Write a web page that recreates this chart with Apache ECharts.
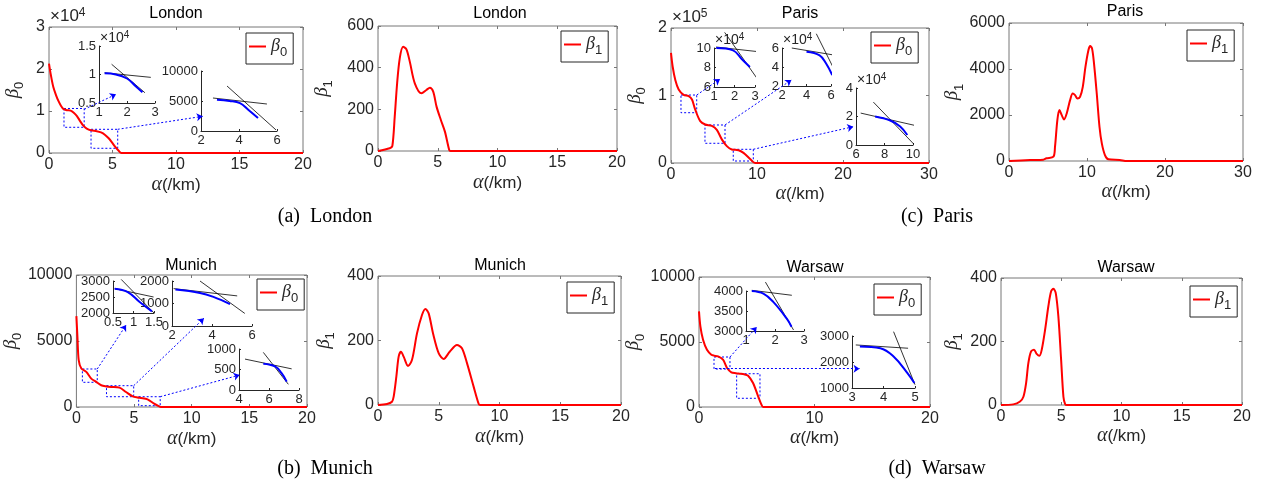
<!DOCTYPE html>
<html><head><meta charset="utf-8">
<script src="https://cdn.jsdelivr.net/npm/echarts@6/dist/echarts.min.js"></script>
<style>html,body{margin:0;padding:0;background:#fff}#c{width:1271px;height:489px}</style>
</head><body><div id="c"></div>
<script>
// ================= DATA =================
// main curves (alpha in km, beta raw values)
const londonB0X = [0,0.15,0.34,0.55,0.74,0.95,1.13,1.4,1.7,1.95,2.2,2.45,2.7,2.97,3.3,3.76,4.1,4.42,4.7,4.94,5.2,5.47,5.7,6.5,20];
const londonB0Y = [21300,18500,15700,13800,12400,11200,10500,10200,10100,9600,8800,7600,6500,5800,5400,5200,4900,4300,3500,2600,1500,600,0,0,0];
const londonB1X = [0,0.98,1.2,1.4,1.6,1.82,2.1,2.38,2.66,3.08,3.64,4.05,4.34,4.62,4.9,5.26,5.6,5.96,6.07,20];
const londonB1Y = [0,13,24,165,325,445,500,488,429,325,277,293,304,285,213,149,93,5,0,0];
const parisB0X = [0,0.19,0.5,0.89,1.47,2.05,2.44,2.82,3.4,3.98,4.75,5.33,5.91,6.49,7.07,7.85,8.43,9.2,9.78,11,30];
const parisB0Y = [163000,143000,123000,109000,101000,99000,94000,79000,62000,57000,55000,49000,35000,25000,20000,19000,15000,6000,0,0,0];
const parisB1X = [0,2.7,4.4,4.8,5.7,5.9,6.2,6.46,6.76,7.06,7.4,7.83,8.17,8.47,8.77,9.11,9.46,9.8,10.18,10.4,10.65,10.9,11.25,11.6,11.9,12.3,12.75,14.2,15.1,30];
const parisB1Y = [0,43,58,116,188,622,1778,2212,1995,1807,2067,2646,2935,2862,2718,2790,3224,4091,4814,5002,4887,4236,2935,1489,766,260,72,43,0,0];
const munichB0X = [0,0.09,0.2,0.43,0.86,1.29,1.72,2.15,2.6,3.0,3.73,4.3,4.88,5.3,5.6,6.17,6.74,7.1,7.32,8,20];
const munichB0Y = [6886,5316,3544,2911,2658,2152,1899,1646,1560,1519,1468,1139,810,720,684,582,253,80,0,0,0];
const munichB1X = [0,0.74,1.15,1.29,1.51,1.7,1.89,2.11,2.47,2.8,3.21,3.62,3.9,4.17,4.53,5.0,5.4,5.9,6.5,6.91,7.33,7.87,8.29,8.42,20];
const munichB1Y = [0,3,10,26,88,150,165,150,121,140,222,279,298,284,222,160,143,165,186,176,129,57,3,0,0];
const warsawB0X = [0,0.12,0.35,0.69,1.07,1.3,1.65,2.08,2.43,2.8,3.2,3.53,3.9,4.25,4.68,5.12,5.35,5.55,6.2,20];
const warsawB0Y = [7359,6205,5179,4410,4026,3950,3897,3641,3000,2667,2600,2564,2520,2410,1846,820,300,0,0,0];
const warsawB1X = [0,1.02,1.58,1.86,2.08,2.27,2.49,2.74,2.96,3.19,3.38,3.66,3.93,4.16,4.35,4.54,4.76,4.99,5.18,5.32,5.46,20];
const warsawB1Y = [0,2,11,26,68,132,168,174,161,155,174,237,311,358,366,353,279,142,26,3,0,0];

// zoom boxes [x1,y1,x2,y2] and arrows [fromX,fromY,toX,toY] in main-plot data units
const londonBoxes = [[1.18,10600,2.77,6120],[3.31,5640,5.41,1120]];
const londonArrows = [[2.77,10400,5.28,13970],[5.41,5640,12.1,8730]];
const parisBoxes = [[1.16,100700,2.99,74500],[3.95,56300,6.28,29200],[7.24,20300,9.57,2960]];
const parisArrows = [[2.99,100700,5.7,124400],[6.28,56300,14.0,123000],[9.57,20300,21.2,53800]];
const munichBoxes = [[0.52,2879,1.81,1871],[2.61,1614,4.97,780],[5.4,780,7.27,100]];
const munichArrows = [[1.81,2879,4.31,6212],[4.97,1614,11.06,6720],[7.27,780,14.16,2424]];
const warsawBoxes = [[1.3,3846,2.68,2923],[3.26,2560,5.28,670]];
const warsawArrows = [[2.68,3846,5.0,6154],[1.38,2950,13.9,2950]];

// inset curves: [x,y] pairs; flat/steep tangent lines (black) and fitted curve (blue)
const londonIn1Flat = [[1.2,10300],[2.85,9500]];
const londonIn1Steep = [[1.45,11800],[2.64,6800]];
const londonIn1Blue = [[1.2,10200],[1.6,10000],[2.0,9300],[2.3,8000],[2.55,6900]];
const londonIn2Flat = [[2.63,5500],[5.47,4500]];
const londonIn2Steep = [[3.37,7500],[5.95,170]];
const londonIn2Blue = [[2.84,5200],[3.5,5000],[4.05,4650],[4.5,3500],[5.0,2170]];
const parisIn1Flat = [[1.1,101000],[3.3,95900]];
const parisIn1Steep = [[1.52,116000],[3.11,68500]];
const parisIn1Blue = [[1.11,100000],[1.93,97600],[2.34,89000],[2.75,80500]];
const parisIn2Flat = [[2.8,60000],[6.84,51300]];
const parisIn2Steep = [[4.8,75000],[6.7,26000]];
const parisIn2Blue = [[4.0,56000],[5.07,52300],[5.6,43700],[6.1,31500]];
const parisIn3Flat = [[6.33,22400],[10.28,13400]];
const parisIn3Steep = [[7.22,30100],[10.05,700]];
const parisIn3Blue = [[7.34,20000],[8.4,17200],[9.1,13000],[9.6,7000]];
const munichIn1Flat = [[0.54,2760],[1.49,2500]];
const munichIn1Steep = [[0.7,3050],[1.5,2000]];
const munichIn1Blue = [[0.54,2760],[0.86,2656],[1.15,2344],[1.45,2052]];
const munichIn2Flat = [[2.08,1662],[5.26,1338]];
const munichIn2Steep = [[3.4,2000],[5.64,559]];
const munichIn2Blue = [[2.17,1618],[3.4,1471],[4.07,1294],[4.9,971]];
const munichIn3Flat = [[4.4,754],[7.51,516]];
const munichIn3Steep = [[5.62,918],[7.29,139]];
const munichIn3Blue = [[5.62,639],[6.4,574],[6.84,410],[7.18,205]];
const warsawIn1Flat = [[1.2,4017],[2.58,3893]];
const warsawIn1Steep = [[1.67,4223],[2.64,3025]];
const warsawIn1Blue = [[1.2,4000],[1.6,3934],[1.94,3727],[2.4,3314],[2.57,3107]];
const warsawIn2Flat = [[3.12,2656],[4.78,2529]];
const warsawIn2Steep = [[4.32,3166],[5.0,1127]];
const warsawIn2Blue = [[3.25,2592],[3.9,2529],[4.32,2210],[4.76,1573],[4.98,1191]];

const cityNames = ['London','Paris','Munich','Warsaw'];
const captions = ['(a)  London','(b)  Munich','(c)  Paris','(d)  Warsaw'];

// ================= LAYOUT / STYLE =================
const SANS = '"Liberation Sans", Arial, Helvetica, sans-serif';
const SERIF = '"Liberation Serif", "Times New Roman", serif';
const AX = '#262626';
const FRAME = '#777777';
const RED = '#ff0000';
const BLUE = '#0000ff';

const grids = [], xAxes = [], yAxes = [], series = [], legends = [], titles = [];
function num(v){ return String(parseFloat(Number(v).toFixed(4))); }
function pairs(xs, ys){ return xs.map((x,i)=>[x, ys[i]]); }
const betaRich = {
  b:{fontFamily:SERIF, fontStyle:'italic', fontSize:19, color:AX, verticalAlign:'top', lineHeight:20},
  s:{fontFamily:SANS, fontSize:13, color:AX, verticalAlign:'top', padding:[10,0,0,0], lineHeight:13}
};
const legRich = {
  b:{fontFamily:SERIF, fontStyle:'italic', fontSize:18, color:AX, verticalAlign:'top', lineHeight:19},
  s:{fontFamily:SANS, fontSize:13, color:AX, verticalAlign:'top', padding:[9,0,0,0], lineHeight:13}
};
// exponent label (×10^n) drawn as a title text at the top-left of an axes
function addExp(left, top, exp, big, small){
  titles.push({text:'{m|×10}{e|'+exp+'}', left:left, top:top, padding:0,
    textStyle:{fontWeight:'normal', fontFamily:SANS, color:AX, rich:{
      m:{fontFamily:SANS, fontWeight:'normal', fontSize:big, color:AX, verticalAlign:'bottom', lineHeight:big+1, padding:[Math.round(small*0.45),0,0,0]},
      e:{fontFamily:SANS, fontWeight:'normal', fontSize:small, color:AX, verticalAlign:'top', lineHeight:small+1}
    }}});
}

function addMain(p){
  const gi = grids.length;
  grids.push({left:p.l, top:p.t, width:p.r-p.l, height:p.b-p.t, show:true, borderColor:FRAME, borderWidth:1, backgroundColor:'transparent'});
  const tick = {show:true, inside:true, length:3, lineStyle:{color:FRAME}};
  const xi = xAxes.length;
  xAxes.push({type:'value', gridIndex:gi, min:0, max:p.xmax, interval:p.xint, position:'bottom',
    axisLine:{show:false, onZero:false}, axisTick:tick, splitLine:{show:false},
    axisLabel:{color:AX, fontFamily:SANS, fontSize:16, margin:4, formatter:v=>num(v)},
    name:'{a|α}(/km)', nameLocation:'middle', nameGap:p.xGap,
    nameTextStyle:{color:AX, fontFamily:SANS, fontSize:17, rich:{a:{fontFamily:SERIF, fontStyle:'italic', fontSize:20, color:AX}}}});
  xAxes.push({type:'value', gridIndex:gi, min:0, max:p.xmax, interval:p.xint, position:'top',
    axisLine:{show:false, onZero:false}, axisTick:tick, axisLabel:{show:false}, splitLine:{show:false}});
  const yi = yAxes.length;
  yAxes.push({type:'value', gridIndex:gi, min:0, max:p.ymax, interval:p.yint, position:'left',
    axisLine:{show:false, onZero:false}, axisTick:tick, splitLine:{show:false},
    axisLabel:{color:AX, fontFamily:SANS, fontSize:16, margin:4, formatter:v=>num(v/p.ydiv)},
    name:'{b|β}{s|'+p.sub+'}', nameLocation:'middle', nameGap:p.yGap, nameRotate:90,
    nameTextStyle:{rich:betaRich}});
  yAxes.push({type:'value', gridIndex:gi, min:0, max:p.ymax, interval:p.yint, position:'right',
    axisLine:{show:false, onZero:false}, axisTick:tick, axisLabel:{show:false}, splitLine:{show:false}});
  if (p.exp) addExp(p.l+1, p.t-20, p.exp, 17, 12);
  const s = {type:'line', name:p.sname, xAxisIndex:xi, yAxisIndex:yi, data:pairs(p.x,p.y),
    showSymbol:false, smooth:0.3, lineStyle:{color:RED, width:2}, itemStyle:{color:RED}, silent:true, z:3};
  if (p.boxes){
    s.markArea = {silent:true, label:{show:false},
      itemStyle:{color:'rgba(0,0,0,0)', borderColor:BLUE, borderWidth:1, borderType:[2,2]},
      data:p.boxes.map(b=>[{coord:[b[0],b[1]]},{coord:[b[2],b[3]]}])};
    s.markLine = {silent:true, symbol:['none','arrow'], symbolSize:6, label:{show:false},
      lineStyle:{color:BLUE, width:1, type:[2,2]},
      data:p.arrows.map(a=>[{coord:[a[0],a[1]]},{coord:[a[2],a[3]]}])};
  }
  series.push(s);
  titles.push({text:p.title, left:p.tx, top:p.ty, textAlign:'center', padding:0,
    textStyle:{fontFamily:SANS, fontSize:16, fontWeight:'normal', color:'#000'}});
  legends.push({data:[p.sname], left:p.lg[0], top:p.lg[1], orient:'vertical', icon:'rect',
    itemWidth:17, itemHeight:2, padding:[4,6,5,3], borderColor:AX, borderWidth:1, backgroundColor:'#fff',
    selectedMode:false, formatter:()=>'{b|β}{s|'+p.sub+'}', textStyle:{rich:legRich}, itemGap:0});
}

function addInset(q){
  const gi = grids.length;
  grids.push({left:q.l, top:q.t, width:q.r-q.l, height:q.b-q.t, show:false});
  const line = {show:true, onZero:false, lineStyle:{color:AX, width:1}};
  const tick = {show:true, inside:true, length:2, lineStyle:{color:AX}};
  const xi = xAxes.length;
  xAxes.push({type:'value', gridIndex:gi, min:q.xmin, max:q.xmax, interval:q.xint, position:'bottom',
    axisLine:line, axisTick:tick, splitLine:{show:false},
    axisLabel:{color:AX, fontFamily:SANS, fontSize:13, margin:3, formatter:v=>num(v)}});
  const yi = yAxes.length;
  yAxes.push({type:'value', gridIndex:gi, min:q.ymin, max:q.ymax, interval:q.yint, position:'left',
    axisLine:line, axisTick:tick, splitLine:{show:false},
    axisLabel:{color:AX, fontFamily:SANS, fontSize:13, margin:3, formatter:v=>num(v/(q.ydiv||1))}});
  if (q.exp) addExp(q.l+1, q.t-16, q.exp, 14, 10);
  const base = {type:'line', xAxisIndex:xi, yAxisIndex:yi, showSymbol:false, silent:true, clip:false, z:4};
  series.push(Object.assign({}, base, {data:q.flat, lineStyle:{color:'#000', width:0.8}, itemStyle:{color:'#000'}}));
  series.push(Object.assign({}, base, {data:q.steep, lineStyle:{color:'#000', width:0.8}, itemStyle:{color:'#000'}}));
  series.push(Object.assign({}, base, {data:q.blue, smooth:0.4, lineStyle:{color:BLUE, width:2}, itemStyle:{color:BLUE}}));
}

// main panels
addMain({sname:'β0 London', l:49,r:303,t:27,b:153, xmax:20,xint:5, ymax:30000,yint:10000, ydiv:1e4, exp:'4',
  sub:'0', yGap:26, xGap:22, title:cityNames[0], tx:176, ty:6, lg:[246,33], x:londonB0X, y:londonB0Y, boxes:londonBoxes, arrows:londonArrows});
addMain({sname:'β1 London', l:378,r:617,t:26,b:151, xmax:20,xint:5, ymax:600,yint:200, ydiv:1,
  sub:'1', yGap:46, xGap:22, title:cityNames[0], tx:500, ty:6, lg:[561,31], x:londonB1X, y:londonB1Y});
addMain({sname:'β0 Paris', l:671,r:929,t:28,b:163, xmax:30,xint:10, ymax:200000,yint:100000, ydiv:1e5, exp:'5',
  sub:'0', yGap:26, xGap:5, title:cityNames[1], tx:800, ty:6, lg:[871,32], x:parisB0X, y:parisB0Y, boxes:parisBoxes, arrows:parisArrows});
addMain({sname:'β1 Paris', l:1009,r:1243,t:23,b:161, xmax:30,xint:10, ymax:6000,yint:2000, ydiv:1,
  sub:'1', yGap:45, xGap:7, title:cityNames[1], tx:1125, ty:4, lg:[1187,30], x:parisB1X, y:parisB1Y});
addMain({sname:'β0 Munich', l:75,r:307,t:275,b:407, xmax:20,xint:5, ymax:10000,yint:5000, ydiv:1,
  sub:'0', yGap:53, xGap:22, title:cityNames[2], tx:191, ty:258, lg:[257,279], x:munichB0X, y:munichB0Y, boxes:munichBoxes, arrows:munichArrows});
addMain({sname:'β1 Munich', l:378,r:621,t:276,b:405, xmax:20,xint:5, ymax:400,yint:200, ydiv:1,
  sub:'1', yGap:44, xGap:22, title:cityNames[2], tx:500, ty:258, lg:[567,282], x:munichB1X, y:munichB1Y});
addMain({sname:'β0 Warsaw', l:699,r:930,t:277,b:407, xmax:20,xint:10, ymax:10000,yint:5000, ydiv:1,
  sub:'0', yGap:54, xGap:20, title:cityNames[3], tx:815, ty:260, lg:[874,284], x:warsawB0X, y:warsawB0Y, boxes:warsawBoxes, arrows:warsawArrows});
addMain({sname:'β1 Warsaw', l:1001,r:1242,t:278,b:405, xmax:20,xint:5, ymax:400,yint:200, ydiv:1,
  sub:'1', yGap:39, xGap:20, title:cityNames[3], tx:1126, ty:260, lg:[1190,286], x:warsawB1X, y:warsawB1Y});

// insets
addInset({l:99,r:155,t:46,b:103, xmin:1,xmax:3,xint:1, ymin:5000,ymax:15000,yint:5000, ydiv:1e4, exp:'4', flat:londonIn1Flat, steep:londonIn1Steep, blue:londonIn1Blue});
addInset({l:201,r:277,t:71,b:131, xmin:2,xmax:6,xint:2, ymin:0,ymax:10000,yint:5000, flat:londonIn2Flat, steep:londonIn2Steep, blue:londonIn2Blue});
addInset({l:714,r:755,t:48,b:87, xmin:1,xmax:3,xint:1, ymin:60000,ymax:100000,yint:20000, ydiv:1e4, exp:'4', flat:parisIn1Flat, steep:parisIn1Steep, blue:parisIn1Blue});
addInset({l:782,r:831,t:48,b:86, xmin:2,xmax:6,xint:2, ymin:20000,ymax:60000,yint:20000, ydiv:1e4, exp:'4', flat:parisIn2Flat, steep:parisIn2Steep, blue:parisIn2Blue});
addInset({l:856,r:913,t:88,b:145, xmin:6,xmax:10,xint:2, ymin:0,ymax:40000,yint:20000, ydiv:1e4, exp:'4', flat:parisIn3Flat, steep:parisIn3Steep, blue:parisIn3Blue});
addInset({l:113,r:154,t:281,b:313, xmin:0.5,xmax:1.5,xint:0.5, ymin:2000,ymax:3000,yint:500, flat:munichIn1Flat, steep:munichIn1Steep, blue:munichIn1Blue});
addInset({l:172,r:252,t:281,b:326, xmin:2,xmax:6,xint:2, ymin:0,ymax:2000,yint:1000, flat:munichIn2Flat, steep:munichIn2Steep, blue:munichIn2Blue});
addInset({l:239,r:299,t:349,b:390, xmin:4,xmax:8,xint:2, ymin:0,ymax:1000,yint:500, flat:munichIn3Flat, steep:munichIn3Steep, blue:munichIn3Blue});
addInset({l:746,r:804,t:291,b:331, xmin:1,xmax:3,xint:1, ymin:3000,ymax:4000,yint:500, flat:warsawIn1Flat, steep:warsawIn1Steep, blue:warsawIn1Blue});
addInset({l:852,r:915,t:336,b:388, xmin:3,xmax:5,xint:1, ymin:1000,ymax:3000,yint:1000, flat:warsawIn2Flat, steep:warsawIn2Steep, blue:warsawIn2Blue});

// captions
const capPos = [[325,207],[325,459],[937,207],[937,459]];
captions.forEach((c,i)=>titles.push({text:c, left:capPos[i][0], top:capPos[i][1], textAlign:'center', padding:0,
  textStyle:{fontFamily:SERIF, fontSize:20, fontWeight:'normal', color:'#000'}}));

const chart = echarts.init(document.getElementById('c'), null, {renderer:'canvas', width:1271, height:489});
chart.setOption({
  backgroundColor:'#ffffff', animation:false,
  textStyle:{fontFamily:SANS},
  title:titles, legend:legends, grid:grids, xAxis:xAxes, yAxis:yAxes, series:series
});
</script></body></html>
